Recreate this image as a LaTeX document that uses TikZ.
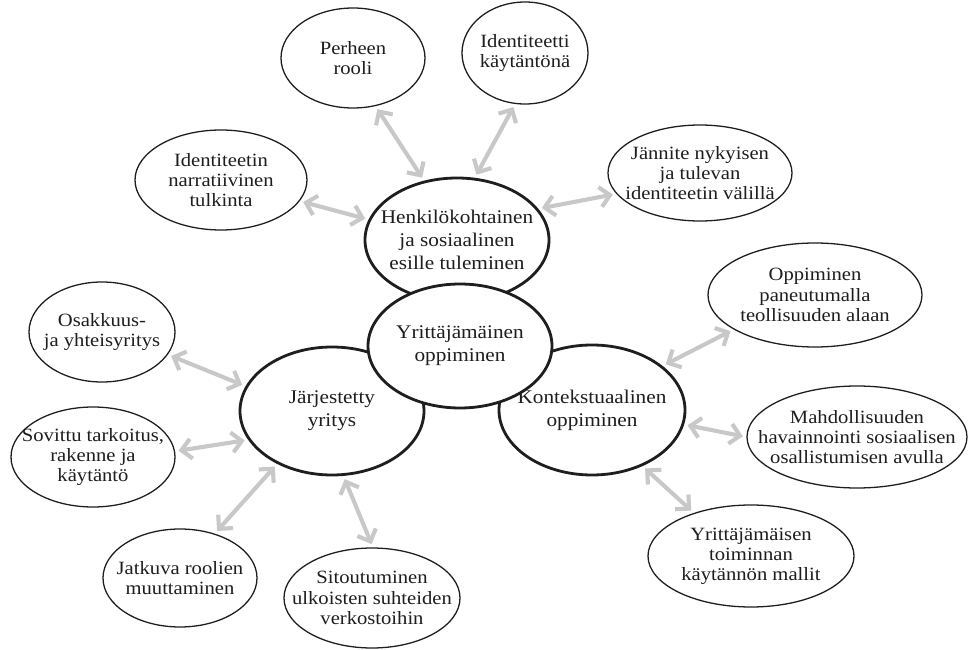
\documentclass[tikz,border=0pt]{standalone}
\usepackage{fontspec}
\setmainfont[FakeStretch=1.1]{Liberation Serif}
\usetikzlibrary{arrows.meta,shapes.geometric}
\definecolor{arrgray}{HTML}{C8C8C8}
\definecolor{inkc}{HTML}{1E1E1E}
\newcommand{\oell}[6]{%
  \node[oellipse, minimum width=#4*0.06cm, minimum height=#5*0.06cm] (#1) at (#2,#3) {};
  \node[otext] (#1lbl) at (#1) {#6};}
\newcommand{\cell}[6]{%
  \node[cellipse, minimum width=#4*0.06cm, minimum height=#5*0.06cm] (#1) at (#2,#3) {};
  \node[ctext] (#1lbl) at (#1) {#6};}
\begin{document}
\begin{tikzpicture}[x=0.03cm,y=-0.03cm,
  oellipse/.style={ellipse, draw=inkc, line width=1.1pt, fill=white, inner sep=0pt},
  cellipse/.style={ellipse, draw=inkc, line width=2.4pt, fill=white, inner sep=0pt},
  otext/.style={inner sep=0pt, align=center, text=inkc, font=\fontsize{16}{17.2}\selectfont},
  ctext/.style={inner sep=0pt, align=center, text=inkc, font=\fontsize{16.5}{19.6}\selectfont},
  gar/.style={{Straight Barb[length=8.5pt,width=17pt]}-{Straight Barb[length=8.5pt,width=17pt]}, line width=3.5pt, draw=arrgray, shorten <=3pt, shorten >=3pt}]
\useasboundingbox (0,0) rectangle (968,650);
% outer ellipses
\oell{P}{353}{58}{72}{50}{Perheen\\rooli}
\oell{I}{525}{53}{63}{51}{Identiteetti\\käytäntönä}
\oell{N}{221}{180}{86}{50}{Identiteetin\\narratiivinen\\tulkinta}
\oell{Jn}{700}{173}{92}{48}{Jännite nykyisen\\ja tulevan\\identiteetin välillä}
\oell{O}{102}{332}{73}{50}{Osakkuus-\\ja yhteisyritys}
\oell{S}{93}{457}{82}{50}{Sovittu tarkoitus,\\rakenne ja\\käytäntö}
\oell{Op}{815}{295}{107}{52}{Oppiminen\\paneutumalla\\teollisuuden alaan}
\oell{M}{857}{437}{110}{51}{Mahdollisuuden\\havainnointi sosiaalisen\\osallistumisen avulla}
\oell{Ja}{180}{578}{77}{49}{Jatkuva roolien\\muuttaminen}
\oell{Si}{372}{598}{88}{50}{Sitoutuminen\\ulkoisten suhteiden\\verkostoihin}
\oell{Ym}{751}{556}{103}{51}{Yrittäjämäisen\\toiminnan\\käytännön mallit}
% central ellipses
\cell{H}{457}{240}{92}{62}{Henkilökohtainen\\ja sosiaalinen\\esille tuleminen}
\cell{J}{332}{411}{92}{64}{Järjestetty\\yritys}
\cell{K}{592}{410}{93}{65}{Kontekstuaalinen\\oppiminen}
\cell{Y}{460}{346}{92}{62}{Yrittäjämäinen\\oppiminen}
% arrows
\draw[gar] (P.-65) -- (H.119);
\draw[gar] (I.-101) -- (H.74);
\draw[gar] (N.-15) -- (H.167);
\draw[gar] (Jn.-166) -- (H.21);
\draw[gar] (O.-19.5) -- (J.164.6);
\draw[gar] (S.4.8) -- (J.-161.8);
\draw[gar] (Ja.52.7) -- (J.-136);
\draw[gar] (Si.89) -- (J.-80.5);
\draw[gar] (Op.-157.2) -- (K.32.7);
\draw[gar] (M.180) -- (K.-9.5);
\draw[gar] (Ym.143.9) -- (K.-48.9);
\end{tikzpicture}
\end{document}
